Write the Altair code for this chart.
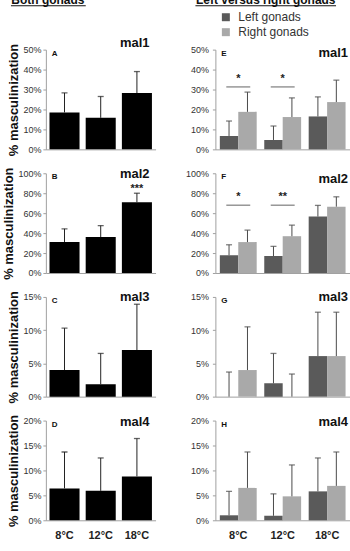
import altair as alt
import pandas as pd

temps = ["8°C", "12°C", "18°C"]
genes = ["mal1", "mal2", "mal3", "mal4"]
letters_both = ["A", "B", "C", "D"]
letters_lr = ["E", "F", "G", "H"]
y_max = [50, 100, 15, 20]
y_step = [10, 20, 5, 5]

# Both gonads: mean and SD (upper error only)
both_mean = [[18.5, 15.8, 28.2], [31.1, 36.0, 71.0], [4.0, 1.85, 7.0], [6.4, 5.9, 8.8]]
both_sd = [[9.8, 10.7, 10.8], [13.2, 11.5, 9.0], [6.3, 4.65, 6.9], [7.3, 6.6, 7.6]]

# Left vs right gonads
left_mean = [[6.7, 4.7, 16.5], [17.8, 17.0, 56.6], [0.0, 2.0, 6.1], [1.0, 0.9, 5.8]]
left_sd = [[7.5, 7.0, 9.8], [10.5, 9.7, 11.2], [3.7, 4.5, 6.6], [4.8, 4.4, 6.7]]
right_mean = [[18.8, 16.2, 23.7], [31.0, 36.9, 66.5], [4.0, 0.0, 6.1], [6.5, 4.8, 6.9]]
right_sd = [[9.9, 9.6, 11.0], [12.0, 11.1, 9.9], [6.5, 3.4, 6.6], [7.2, 6.3, 6.8]]

sides = ["Left gonads", "Right gonads"]
side_colors = ["#5a5a5a", "#a9a9a9"]

# significance marks
sig_both = [(1, "18°C", 84, "***")]
sig_lr = [(0, "8°C", 31.3, 35.5, "*"), (0, "12°C", 31.3, 35.5, "*"),
          (1, "8°C", 68, 76, "*"), (1, "12°C", 68, 76, "**")]

headers = ["Both gonads", "Left versus right gonads"]

FONT = "Liberation Sans"
W_L, W_R, H = 110, 135, 100
gene_dy_both = [-6.5, 1, 0, 1.5]
gene_dy_lr = [3.5, 6, 0, 1.5]


def xaxis(i):
    if i == 3:
        return alt.Axis(title=None, labelAngle=0, ticks=False, labelFontWeight="bold",
                        labelFontSize=11, labelColor="#222", labelPadding=9,
                        domainColor="#a0a0a0", labelFont=FONT)
    return alt.Axis(title=None, labels=False, ticks=False, domainColor="#a0a0a0")


def yaxis(i, title):
    kw = dict(values=list(range(0, y_max[i] + 1, y_step[i])), labelExpr="datum.value + '%'",
              grid=False, tickSize=3, tickColor="#a0a0a0", domainColor="#a0a0a0",
              labelFontSize=9, labelColor="#333", labelFont=FONT)
    if title:
        return alt.Axis(title=title, titleFontSize=13, titleFontWeight="bold", titleColor="#111",
                        titleFont=FONT, titlePadding=2, labelPadding=2, **kw)
    return alt.Axis(title=None, labelPadding=4, **kw)


def text_layer(txt, x, y, size, weight="bold", align="left", baseline="middle", color="#111"):
    return alt.Chart(pd.DataFrame({"t": [txt]})).mark_text(
        align=align, baseline=baseline, fontSize=size, fontWeight=weight, font=FONT, color=color
    ).encode(text="t:N", x=alt.value(x), y=alt.value(y))


def panel_both(i):
    df = pd.DataFrame({"temp": temps, "mean": both_mean[i],
                       "upper": [m + s for m, s in zip(both_mean[i], both_sd[i])]})
    xs = alt.Scale(domain=temps, paddingInner=0.17, paddingOuter=0.1)
    ys = alt.Scale(domain=[0, y_max[i]], nice=False)
    X = alt.X("temp:N", sort=temps, scale=xs, axis=xaxis(i))

    def Y(f):
        return alt.Y(f, type="quantitative", scale=ys, axis=yaxis(i, "% masculinization"))

    base = alt.Chart(df)
    bars = base.mark_bar(color="#000").encode(x=X, y=Y("mean"))
    err = base.mark_rule(color="#222", strokeWidth=1).encode(x=X, y=Y("mean"), y2="upper:Q")
    cap = base.mark_tick(color="#222", size=6, thickness=1.3).encode(x=X, y=Y("upper"))
    layers = [bars, err, cap,
              text_layer(letters_both[i], 6, 4, 8),
              text_layer(genes[i], W_L - 6, gene_dy_both[i], 13, align="right")]
    s = [r for r in sig_both if r[0] == i]
    if s:
        sdf = pd.DataFrame({"temp": [r[1] for r in s], "pos": [r[2] for r in s],
                            "t": [r[3] for r in s]})
        layers.append(alt.Chart(sdf).mark_text(fontSize=11, fontWeight="bold", color="#222",
                                               font=FONT, baseline="middle").encode(
            x=X, y=Y("pos"), text="t:N"))
    if i == 0:
        layers.append(text_layer(headers[0], 2, -46, 12, align="center", baseline="alphabetic"))
        layers.append(alt.Chart(pd.DataFrame({"a": [0]})).mark_rule(color="#111", strokeWidth=1).encode(
            x=alt.value(-35), x2=alt.value(40), y=alt.value(-44)))
    return alt.layer(*layers).properties(width=W_L, height=H)


def panel_lr(i):
    rows = []
    for k, t in enumerate(temps):
        rows.append({"temp": t, "side": sides[0], "mean": left_mean[i][k],
                     "upper": left_mean[i][k] + left_sd[i][k]})
        rows.append({"temp": t, "side": sides[1], "mean": right_mean[i][k],
                     "upper": right_mean[i][k] + right_sd[i][k]})
    df = pd.DataFrame(rows)
    xs = alt.Scale(domain=temps, paddingInner=0.17, paddingOuter=0.1)
    ys = alt.Scale(domain=[0, y_max[i]], nice=False)
    X = alt.X("temp:N", sort=temps, scale=xs, axis=xaxis(i))

    def Y(f):
        return alt.Y(f, type="quantitative", scale=ys, axis=yaxis(i, None))

    xo = alt.XOffset("side:N", sort=sides, scale=alt.Scale(domain=sides, paddingInner=0, paddingOuter=0))
    base = alt.Chart(df)
    bars = base.mark_bar().encode(
        x=X, xOffset=xo, y=Y("mean"),
        color=alt.Color("side:N", scale=alt.Scale(domain=sides, range=side_colors), legend=None))
    err = base.mark_rule(color="#4a4a4a", strokeWidth=1).encode(
        x=X, xOffset=xo, y=Y("mean"), y2="upper:Q")
    cap = base.mark_tick(color="#4a4a4a", size=6, thickness=1.3).encode(
        x=X, xOffset=xo, y=Y("upper"))
    layers = [bars, err, cap,
              text_layer(letters_lr[i], 6, 4, 8),
              text_layer(genes[i], W_R - 2, gene_dy_lr[i], 13, align="right")]
    s = [r for r in sig_lr if r[0] == i]
    if s:
        sdf = pd.DataFrame({"temp": [r[1] for r in s], "line": [r[2] for r in s],
                            "star": [r[3] for r in s], "t": [r[4] for r in s]})
        sb = alt.Chart(sdf)
        layers.append(sb.mark_tick(color="#444", size=24, thickness=1.2).encode(x=X, y=Y("line")))
        layers.append(sb.mark_text(fontSize=11, fontWeight="bold", color="#222", font=FONT,
                                   baseline="middle").encode(x=X, y=Y("star"), text="t:N"))
    if i == 0:
        layers.append(text_layer(headers[1], 50.5, -46, 12, align="center", baseline="alphabetic"))
        layers.append(alt.Chart(pd.DataFrame({"a": [0]})).mark_rule(color="#111", strokeWidth=1).encode(
            x=alt.value(-20), x2=alt.value(121), y=alt.value(-44)))
        for k, (lab, col) in enumerate(zip(sides, side_colors)):
            yy = -32.5 + 15 * k
            layers.append(alt.Chart(pd.DataFrame({"a": [0]})).mark_square(
                color=col, size=64, opacity=1).encode(x=alt.value(10.5), y=alt.value(yy)))
            layers.append(text_layer(lab, 23, yy, 12, weight="normal", color="#333"))
    return alt.layer(*layers).properties(width=W_R, height=H)


panels = []
for i in range(4):
    panels.append(panel_both(i))
    panels.append(panel_lr(i))

chart = alt.concat(*panels, columns=2, spacing={"row": 10, "column": 29}).properties(
    padding={"top": -7, "left": 2, "right": 0, "bottom": 0}
).configure(font=FONT).configure_view(strokeWidth=0)

chart.save("out.html", embed_options={"renderer": "svg", "actions": False})
